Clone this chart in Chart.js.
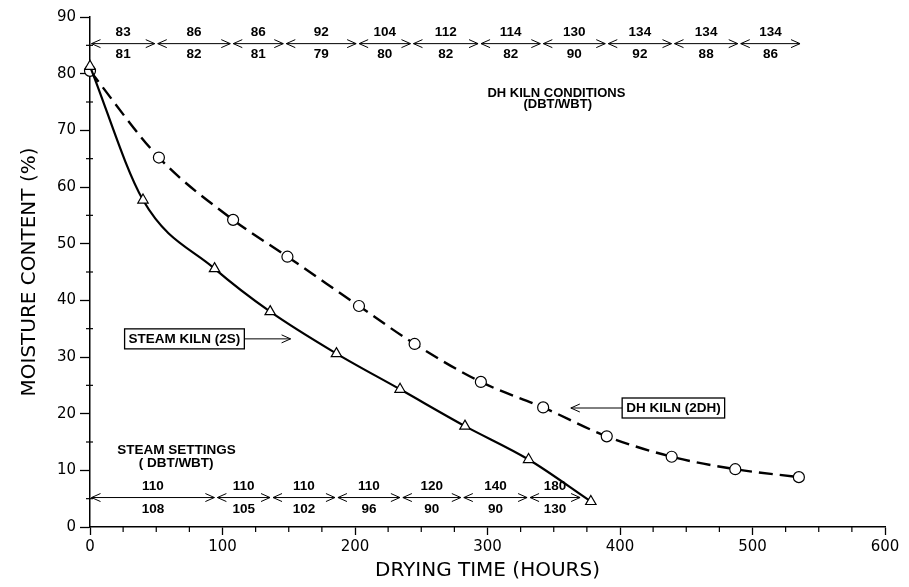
<!DOCTYPE html>
<html>
<head>
<meta charset="utf-8">
<script src="https://cdn.jsdelivr.net/npm/chart.js@4.4.1/dist/chart.umd.min.js"></script>
<style>
    html, body { margin: 0; padding: 0; background: #fff; }
    #wrap { width: 909px; height: 587px; }
</style>
</head>
<body>
<div id="wrap"><canvas id="chart"></canvas></div>
<script>
// Measured points (drying hours, moisture content %).
const steam_hours = [0, 40, 94, 136, 186, 234, 283, 331, 378];
const steam_mc = [81.3, 57.7, 45.6, 38.0, 30.6, 24.3, 17.8, 11.9, 4.5];
const dh_hours = [0, 52, 108, 149, 203, 245, 295, 342, 390, 439, 487, 535];
const dh_mc = [80.5, 65.2, 54.2, 47.7, 39.0, 32.3, 25.6, 21.1, 16.0, 12.4, 10.2, 8.8];

// Kiln schedule steps, hours where each step starts/ends, DBT over WBT.
const dh_steps = [0, 50, 107, 147, 202, 243, 294, 341, 390, 440, 490, 537];
const dh_dbt = [83, 86, 86, 92, 104, 112, 114, 130, 134, 134, 134];
const dh_wbt = [81, 82, 81, 79, 80, 82, 82, 90, 92, 88, 86];
const steam_steps = [0, 95, 137, 186, 235, 281, 331, 371];
const steam_dbt = [110, 110, 110, 110, 120, 140, 180];
const steam_wbt = [108, 105, 102, 96, 90, 90, 130];

// Axis ticks.
const x_ticks = [0, 100, 200, 300, 400, 500, 600];
const y_ticks = [0, 10, 20, 30, 40, 50, 60, 70, 80, 90];

const INK = "#000";

// Open "V" arrow head with its tip at (x, y), pointing in direction dir (+1 right, -1 left).
function chevron(ctx, x, y, dir) {
    ctx.beginPath();
    ctx.moveTo(x - dir * 9, y - 4);
    ctx.lineTo(x, y);
    ctx.lineTo(x - dir * 9, y + 4);
    ctx.stroke();
}

// Extra marks: minor ticks, schedule arrows and labels.
const annotate = {
    id: "annotate",
    afterDraw(chart) {
        const { ctx, scales: { x, y } } = chart;
        ctx.save();
        ctx.strokeStyle = INK;
        ctx.fillStyle = INK;
        ctx.lineWidth = 1.2;

        // Minor ticks.
        const y0 = y.getPixelForValue(0);
        const x0 = x.getPixelForValue(0);
        for (let v = 5; v < 90; v += 10) {
            const py = y.getPixelForValue(v);
            ctx.beginPath();
            ctx.moveTo(x0 - 4, py);
            ctx.lineTo(x0 + 3, py);
            ctx.stroke();
        }
        for (let h = 25; h <= 600; h += 25) {
            if (h % 100 == 0) continue;
            const px = x.getPixelForValue(h);
            ctx.beginPath();
            ctx.moveTo(px, y0);
            ctx.lineTo(px, y0 + 5);
            ctx.stroke();
        }

        // Schedule rows.
        function draw_steps(steps, dbt, wbt, level, up, down) {
            const py = y.getPixelForValue(level);
            ctx.lineWidth = 1;
            ctx.font = "bold 13.5px 'Liberation Sans', Arial, sans-serif";
            ctx.textAlign = "center";
            ctx.textBaseline = "middle";
            for (let i = 0; i < steps.length - 1; i++) {
                const a = x.getPixelForValue(steps[i]) + 1.5;
                const b = x.getPixelForValue(steps[i + 1]) - 1.5;
                ctx.beginPath();
                ctx.moveTo(a, py);
                ctx.lineTo(b, py);
                ctx.stroke();
                chevron(ctx, a, py, -1);
                chevron(ctx, b, py, 1);
                const mid = (a + b) / 2;
                ctx.fillText(String(dbt[i]), mid, py - up);
                ctx.fillText(String(wbt[i]), mid, py + down);
            }
        }
        draw_steps(dh_steps, dh_dbt, dh_wbt, 85.3, 11, 11);
        draw_steps(steam_steps, steam_dbt, steam_wbt, 5.2, 11, 12);

        // Captions.
        ctx.textAlign = "center";
        ctx.textBaseline = "middle";
        ctx.font = "bold 13px 'Liberation Sans', Arial, sans-serif";
        ctx.fillText("DH KILN CONDITIONS", x.getPixelForValue(352), y.getPixelForValue(76.6));
        ctx.fillText("(DBT/WBT)", x.getPixelForValue(353), y.getPixelForValue(74.5));
        ctx.font = "bold 13.5px 'Liberation Sans', Arial, sans-serif";
        ctx.fillText("STEAM SETTINGS", x.getPixelForValue(65.3), y.getPixelForValue(13.6));
        ctx.fillText("( DBT/WBT)", x.getPixelForValue(65), y.getPixelForValue(11.3));

        // Boxed series labels with arrows.
        function boxed(text, cx, cy, tip) {
            ctx.font = "bold 13.5px 'Liberation Sans', Arial, sans-serif";
            const w = ctx.measureText(text).width + 8;
            const h = 20;
            const px = x.getPixelForValue(cx);
            const py = y.getPixelForValue(cy);
            ctx.lineWidth = 1.3;
            ctx.strokeRect(px - w / 2, py - h / 2, w, h);
            ctx.fillText(text, px, py + 0.5);
            const tx = x.getPixelForValue(tip);
            const start = tx > px ? px + w / 2 : px - w / 2;
            ctx.lineWidth = 1;
            ctx.beginPath();
            ctx.moveTo(start, py);
            ctx.lineTo(tx, py);
            ctx.stroke();
            chevron(ctx, tx, py, tx > px ? 1 : -1);
        }
        boxed("STEAM KILN (2S)", 71.3, 33.2, 151.4);
        boxed("DH KILN (2DH)", 440.3, 21.0, 362.9);

        ctx.restore();
    }
};

const ctx = document.getElementById("chart");

const data = {
    datasets: [
        {
            label: "STEAM KILN (2S)",
            data: steam_hours.map((h, i) => ({ x: h, y: steam_mc[i] })),
            borderColor: INK,
            borderWidth: 2.2,
            pointStyle: "triangle",
            pointRadius: 6,
            pointBackgroundColor: "#fff",
            pointBorderColor: INK,
            pointBorderWidth: 1.2,
            cubicInterpolationMode: "monotone",
            clip: false,
        },
        {
            label: "DH KILN (2DH)",
            data: dh_hours.map((h, i) => ({ x: h, y: dh_mc[i] })),
            borderColor: INK,
            borderWidth: 2.4,
            borderDash: [14, 7],
            pointStyle: "circle",
            pointRadius: 5.5,
            pointBackgroundColor: "#fff",
            pointBorderColor: INK,
            pointBorderWidth: 1.2,
            cubicInterpolationMode: "monotone",
            clip: false,
        },
    ],
};

const config = {
    type: "line",
    data: data,
    options: {
        responsive: true,
        maintainAspectRatio: false,
        animation: false,
        layout: {
            padding: { top: 17, right: 24, left: 0, bottom: 0 },
        },
        plugins: {
            legend: { display: false },
            tooltip: { enabled: false },
        },
        scales: {
            x: {
                type: "linear",
                min: 0,
                max: 600,
                afterBuildTicks: (scale) => { scale.ticks = x_ticks.map(v => ({ value: v })); },
                afterFit: (scale) => { scale.height = 60; },
                border: { display: true, color: INK, width: 1.5 },
                grid: {
                    display: true,
                    drawOnChartArea: false,
                    drawTicks: true,
                    tickLength: 8,
                    tickColor: INK,
                    tickWidth: 1.3,
                },
                ticks: {
                    color: INK,
                    padding: 3,
                    maxRotation: 0,
                    font: { family: "'DejaVu Sans', sans-serif", size: 15 },
                },
                title: {
                    display: true,
                    text: "DRYING TIME (HOURS)",
                    color: INK,
                    padding: { top: 0, bottom: 4.5 },
                    font: { family: "'DejaVu Sans', sans-serif", size: 20 },
                },
            },
            y: {
                min: 0,
                max: 90,
                afterBuildTicks: (scale) => { scale.ticks = y_ticks.map(v => ({ value: v })); },
                afterFit: (scale) => { scale.width = 90; },
                border: { display: true, color: INK, width: 1.5 },
                grid: {
                    display: true,
                    drawOnChartArea: false,
                    drawTicks: true,
                    tickLength: 10,
                    tickColor: INK,
                    tickWidth: 1.3,
                },
                ticks: {
                    color: INK,
                    padding: 4,
                    font: { family: "'DejaVu Sans', sans-serif", size: 15 },
                },
                title: {
                    display: true,
                    text: "MOISTURE CONTENT (%)",
                    color: INK,
                    padding: { top: 18, bottom: 0 },
                    font: { family: "'DejaVu Sans', sans-serif", size: 20 },
                },
            },
        },
    },
    plugins: [annotate],
};

// Draw graph.
window.myChart = new Chart(ctx, config);
</script>
</body>
</html>
